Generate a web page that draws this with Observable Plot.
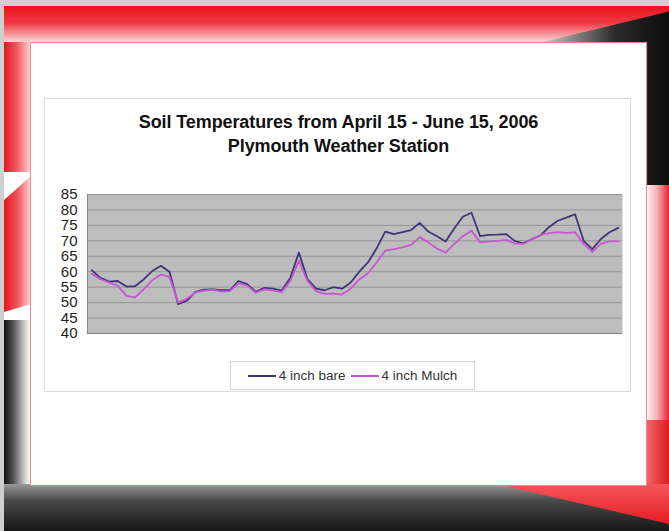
<!DOCTYPE html>
<html>
<head>
<meta charset="utf-8">
<script src="https://cdn.jsdelivr.net/npm/d3@7"></script>
<script src="https://cdn.jsdelivr.net/npm/@observablehq/plot@0.6"></script>
<style>
  html, body { margin: 0; padding: 0; background: #cfcfcf; }
  #page { position: relative; width: 669px; height: 531px; overflow: hidden; background: #cfcfcf; font-family: "Liberation Sans", Arial, sans-serif; }
  .layer { position: absolute; }
  #inner { position: absolute; left: 30px; top: 42px; width: 615px; height: 442px; background: #fff; border: 1px solid #ef8a8e; }
  #chartbox { position: absolute; left: 44px; top: 98px; width: 585px; height: 292px; background: #fff; border: 1px solid #dcdcdc; }
  #title { position: absolute; left: 40px; top: 110px; width: 597px; text-align: center; font-weight: bold; font-size: 18px; line-height: 24px; color: #111; letter-spacing: -0.1px; }
  #plot { position: absolute; left: 44px; top: 180px; }
  #legend { position: absolute; left: 230px; top: 361px; width: 243px; height: 27px; border: 1px solid #d4d4d4; background: #fff; font-size: 13.5px; color: #333; display: flex; align-items: center; justify-content: center; gap: 5px; }
  #legend .item { display: flex; align-items: center; gap: 3px; }
  #legend .swatch { width: 28px; height: 2px; }
</style>
</head>
<body>
<div id="page">
  <!-- decorative slide frame -->
  <div class="layer" style="left:4px;top:6px;width:665px;height:525px;background:#fff;"></div>
  <div class="layer" style="left:4px;top:6px;width:665px;height:38px;background:linear-gradient(to bottom,#e8121c 0%,#ee3a44 45%,#f7a8ad 80%,#fde4e6 100%);"></div>
  <div class="layer" style="left:4px;top:6px;width:665px;height:180px;clip-path:polygon(81% 20%,100% 3%,100% 100%,96.7% 100%,96.7% 20%);background:linear-gradient(to right,#fff 0%,#bcbcbc 82%,#2a2a2a 92%,#0c0c0c 100%);"></div>
  <div class="layer" style="left:4px;top:42px;width:27px;height:130px;background:linear-gradient(to right,#e41820 0%,#f0555c 45%,#fdd6d8 100%);"></div>
  <div class="layer" style="left:4px;top:160px;width:27px;height:160px;clip-path:polygon(0 25%,100% 10%,100% 90%,0 95%);background:linear-gradient(to right,#e41820 0%,#f0555c 50%,#fdd6d8 100%);"></div>
  <div class="layer" style="left:4px;top:320px;width:27px;height:170px;background:linear-gradient(to right,#111 0%,#555 35%,#d6d6d6 80%,#fff 100%);"></div>
  <div class="layer" style="left:645px;top:185px;width:24px;height:255px;background:linear-gradient(to right,#fff 0%,#f6b0b4 50%,#e4262e 100%);"></div>
  <div class="layer" style="left:645px;top:420px;width:24px;height:70px;background:linear-gradient(to right,#f26a70 0%,#e01a22 100%);"></div>
  <div class="layer" style="left:4px;top:484px;width:665px;height:47px;background:linear-gradient(to bottom,#9a9a9a 0%,#4a4a4a 35%,#151515 100%);"></div>
  <div class="layer" style="left:4px;top:484px;width:665px;height:47px;clip-path:polygon(74% 0,100% 0,100% 85%);background:linear-gradient(to bottom,#f6555b 0%,#e2121a 100%);"></div>
  <div id="inner"></div>
  <div id="chartbox"></div>
  <div id="title"></div>
  <div id="plot"></div>
  <div id="legend"></div>
</div>
<script>
// ---- data (daily, April 15 - June 15, 2006) ----
const startDate = "2006-04-15";
const bare = [60.5, 58, 56.8, 57, 55.2, 55.3, 57.5, 60.2, 61.9, 60,
  49.5, 50.6, 53.5, 54.2, 54.3, 54, 54, 57, 56, 53.5,
  54.8, 54.5, 53.9, 58, 66.2, 57.5, 54.5, 54, 55, 54.5,
  56.5, 60, 63, 67.5, 73, 72.2, 72.8, 73.5, 75.8, 73,
  71.5, 69.8, 74, 77.8, 79.1, 71.5, 71.9, 72, 72.2, 70,
  69.2, 70.5, 71.8, 74.5, 76.5, 77.5, 78.6, 70, 67.3, 70.6,
  72.8, 74.2];
const mulch = [59.3, 57.6, 56.5, 55.5, 52.2, 51.7, 54.3, 57.2, 59.1, 58.3,
  50, 51.2, 53.3, 53.9, 54.2, 53.6, 53.7, 56.3, 55.5, 53.2,
  54.3, 54, 53.4, 57, 63.5, 57, 53.7, 52.8, 52.9, 52.6,
  54.5, 57.5, 59.5, 63, 66.8, 67.3, 67.9, 68.7, 71.2, 69.5,
  67.5, 66.2, 69, 71.5, 73.3, 69.5, 69.8, 70, 70.3, 69.2,
  69, 70.5, 71.9, 72.5, 72.8, 72.6, 72.8, 69, 66.4, 69,
  69.8, 69.8];
const seriesNames = ["4 inch bare", "4 inch Mulch"];
const seriesColors = ["#3d3679", "#c955d3"];
const yTicks = [40, 45, 50, 55, 60, 65, 70, 75, 80, 85];
const titleLines = ["Soil Temperatures from April 15 - June 15, 2006", "Plymouth Weather Station"];

// ---- build table ----
const rows = [];
[bare, mulch].forEach((vals, s) => {
  vals.forEach((v, i) => rows.push({day: i, series: seriesNames[s], temp: v}));
});

document.getElementById("title").innerHTML = titleLines.map(t => `<div>${t}</div>`).join("");

const chart = Plot.plot({
  width: 587,
  height: 165,
  marginLeft: 43,
  marginRight: 9,
  marginTop: 14,
  marginBottom: 12,
  style: {background: "transparent", fontFamily: "Liberation Sans, Arial, sans-serif", fontSize: "15px", color: "#222"},
  x: {domain: [-0.5, bare.length - 0.5], axis: null},
  y: {domain: [40, 85], ticks: yTicks, tickSize: 0, tickPadding: 10, label: null},
  color: {domain: seriesNames, range: seriesColors},
  marks: [
    Plot.frame({fill: "#bdbdbd", stroke: null}),
    Plot.gridY(yTicks, {stroke: "#959595", strokeOpacity: 1, strokeWidth: 1}),
    Plot.ruleY([40], {stroke: "#808080"}),
    Plot.ruleX([-0.5], {stroke: "#8a8a8a"}),
    Plot.lineY(rows, {x: "day", y: "temp", z: "series", stroke: "series", strokeWidth: 1.8, curve: "linear"}),
  ]
});
document.getElementById("plot").appendChild(chart);

// legend
document.getElementById("legend").innerHTML = seriesNames.map((n, i) =>
  `<span class="item"><span class="swatch" style="background:${seriesColors[i]}"></span><span>${n}</span></span>`).join("");
</script>
</body>
</html>
